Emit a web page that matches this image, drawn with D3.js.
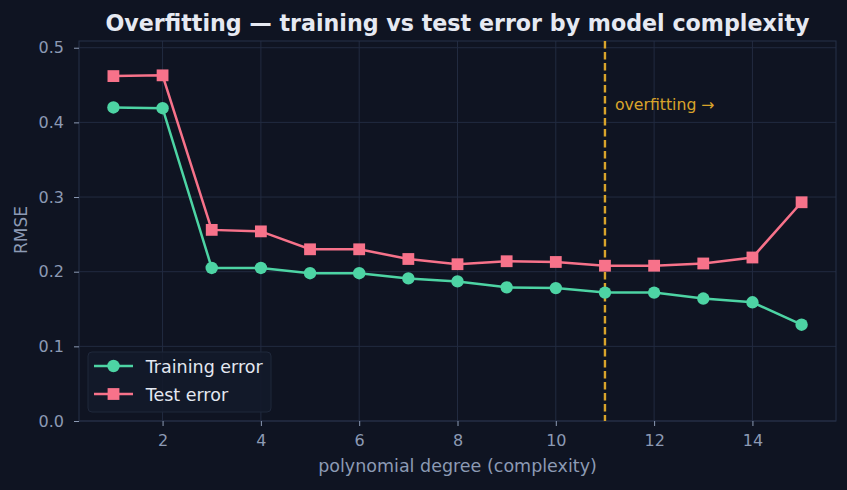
<!DOCTYPE html>
<html>
<head>
<meta charset="utf-8">
<script src="https://cdn.jsdelivr.net/npm/d3@7"></script>
<style>
  html, body { margin: 0; padding: 0; background: #0f1422; }
  svg { display: block; font-family: "DejaVu Sans", sans-serif; }
</style>
</head>
<body>
<div id="chart"></div>
<script>
const width = 847
const height = 490

// data
const degrees = [1, 2, 3, 4, 5, 6, 7, 8, 9, 10, 11, 12, 13, 14, 15]
const trainError = [0.420, 0.419, 0.205, 0.205, 0.198, 0.198, 0.191, 0.187, 0.179, 0.178, 0.172, 0.172, 0.164, 0.159, 0.129]
const testError = [0.462, 0.463, 0.256, 0.254, 0.230, 0.230, 0.217, 0.210, 0.214, 0.213, 0.208, 0.208, 0.211, 0.219, 0.293]
const xTicks = [2, 4, 6, 8, 10, 12, 14]
const yTicks = [0.0, 0.1, 0.2, 0.3, 0.4, 0.5]
const overfitAt = 11

const margin = {top: 41, right: 11, bottom: 69, left: 79}

const svg = d3.select("#chart")
  .append("svg")
  .attr("width", width)
  .attr("height", height)

svg.append("rect")
  .attr("width", width).attr("height", height)
  .attr("fill", "#0f1422")

const x = d3.scaleLinear().domain([0.3, 15.7]).range([margin.left, width - margin.right])
const y = d3.scaleLinear().domain([0, 0.509]).range([height - margin.bottom, margin.top])

const plot = svg.append("g")

// grid
plot.selectAll("line.gx")
  .data(xTicks)
  .join("line")
    .attr("class", "gx")
    .attr("x1", d => x(d)).attr("x2", d => x(d))
    .attr("y1", margin.top).attr("y2", height - margin.bottom)
    .attr("stroke", "#222b40").attr("stroke-width", 1)

plot.selectAll("line.gy")
  .data(yTicks)
  .join("line")
    .attr("class", "gy")
    .attr("x1", margin.left).attr("x2", width - margin.right)
    .attr("y1", d => y(d)).attr("y2", d => y(d))
    .attr("stroke", "#222b40").attr("stroke-width", 1)

// frame
plot.append("rect")
  .attr("x", margin.left).attr("y", margin.top)
  .attr("width", width - margin.right - margin.left)
  .attr("height", height - margin.bottom - margin.top)
  .attr("fill", "none")
  .attr("stroke", "#263049").attr("stroke-width", 1)

// axes
const xAxis = svg.append("g")
  .attr("transform", `translate(0,${height - margin.bottom})`)
  .call(d3.axisBottom(x).tickValues(xTicks).tickSize(5).tickPadding(9).tickFormat(d3.format("d")))
const yAxis = svg.append("g")
  .attr("transform", `translate(${margin.left},0)`)
  .call(d3.axisLeft(y).tickValues(yTicks).tickSize(5).tickPadding(10).tickFormat(d3.format(".1f")))

;[xAxis, yAxis].forEach(a => {
  a.select(".domain").remove()
  a.attr("font-size", null).attr("font-family", null)
  a.selectAll(".tick line").attr("stroke", "#8c9ab4")
  a.selectAll(".tick text")
    .attr("fill", "#8c9ab4")
    .style("font-size", "16px")
    .style("font-family", "DejaVu Sans, sans-serif")
})

// overfitting marker
svg.append("line")
  .attr("x1", x(overfitAt)).attr("x2", x(overfitAt))
  .attr("y1", margin.top).attr("y2", height - margin.bottom)
  .attr("stroke", "#d9a42b").attr("stroke-width", 2.4)
  .attr("stroke-dasharray", "7.4,3.6")

svg.append("text")
  .attr("x", x(overfitAt) + 10).attr("y", 109.5)
  .attr("fill", "#d9a42b")
  .style("font-size", "15.7px")
  .text("overfitting →")

const series = [
  {name: "Training error", values: trainError, color: "#4dd4a4", shape: "circle"},
  {name: "Test error", values: testError, color: "#f7728a", shape: "square"}
]

const line = d3.line()
  .x((d, i) => x(degrees[i]))
  .y(d => y(d))

series.forEach(s => {
  svg.append("path")
    .datum(s.values)
    .attr("d", line)
    .attr("fill", "none")
    .attr("stroke", s.color)
    .attr("stroke-width", 2.5)

  const g = svg.append("g")
  if (s.shape == "circle") {
    g.selectAll("circle")
      .data(s.values)
      .join("circle")
        .attr("cx", (d, i) => x(degrees[i]))
        .attr("cy", d => y(d))
        .attr("r", 6.2)
        .attr("fill", s.color)
  } else {
    g.selectAll("rect")
      .data(s.values)
      .join("rect")
        .attr("x", (d, i) => x(degrees[i]) - 5.9)
        .attr("y", d => y(d) - 5.9)
        .attr("width", 11.8).attr("height", 11.8)
        .attr("fill", s.color)
  }
})

// legend
const legend = svg.append("g")
legend.append("rect")
  .attr("x", 88).attr("y", 352)
  .attr("width", 183).attr("height", 60)
  .attr("rx", 4)
  .attr("fill", "#131a2a").attr("fill-opacity", 0.9)
  .attr("stroke", "#1f283b")

series.forEach((s, i) => {
  const ly = 366 + i * 28
  legend.append("line")
    .attr("x1", 94).attr("x2", 133)
    .attr("y1", ly).attr("y2", ly)
    .attr("stroke", s.color).attr("stroke-width", 2.5)
  if (s.shape == "circle") {
    legend.append("circle").attr("cx", 113.5).attr("cy", ly).attr("r", 6.2).attr("fill", s.color)
  } else {
    legend.append("rect").attr("x", 107.6).attr("y", ly - 5.9).attr("width", 11.8).attr("height", 11.8).attr("fill", s.color)
  }
  legend.append("text")
    .attr("x", 145.7).attr("y", ly + 7.3)
    .attr("fill", "#e4e8f1")
    .style("font-size", "17.5px")
    .text(s.name)
})

// titles
svg.append("text")
  .attr("x", (margin.left + width - margin.right) / 2).attr("y", 30.5)
  .attr("text-anchor", "middle")
  .attr("fill", "#e6e9f2")
  .style("font-size", "22.2px")
  .attr("font-weight", "bold")
  .text("Overfitting — training vs test error by model complexity")

svg.append("text")
  .attr("x", (margin.left + width - margin.right) / 2).attr("y", 471.7)
  .attr("text-anchor", "middle")
  .attr("fill", "#8c9ab4")
  .style("font-size", "17.5px")
  .text("polynomial degree (complexity)")

svg.append("text")
  .attr("transform", `translate(26.5,230) rotate(-90)`)
  .attr("text-anchor", "middle")
  .attr("fill", "#8c9ab4")
  .style("font-size", "17px")
  .text("RMSE")
</script>
</body>
</html>
